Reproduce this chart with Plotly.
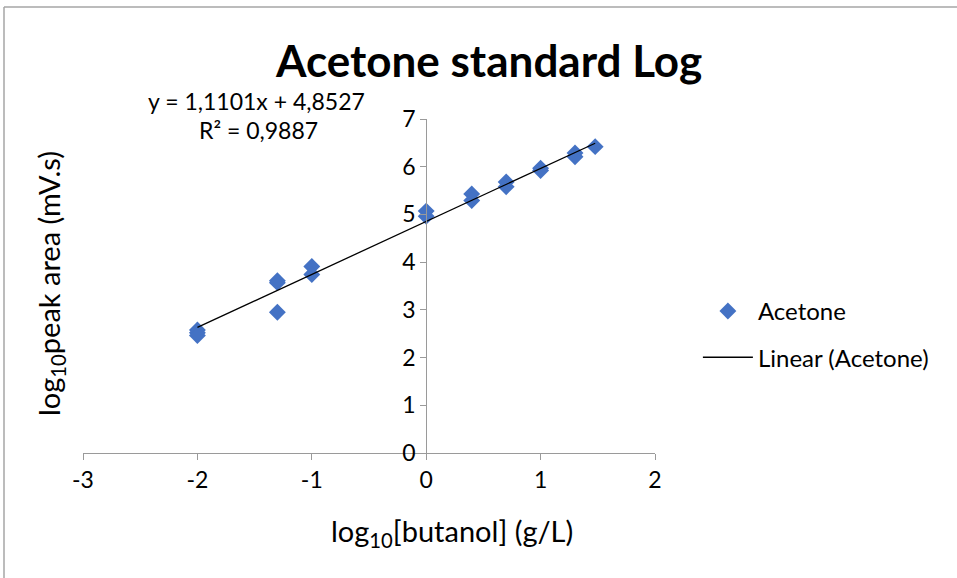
import plotly.graph_objects as go

# Data
log_butanol = [-2, -2, -2, -1.301, -1.301, -1.301, -1, -1, 0, 0,
               0.398, 0.398, 0.699, 0.699, 1, 1, 1.301, 1.301, 1.477]
log_peak = [2.58, 2.52, 2.46, 3.61, 3.57, 2.95, 3.91, 3.74, 5.07, 4.96,
            5.43, 5.29, 5.68, 5.58, 5.97, 5.92, 6.29, 6.21, 6.42]
slope = 1.1101
intercept = 4.8527
r2 = 0.9887
x_ticks = [-3, -2, -1, 0, 1, 2]
x_tick_labels = ["-3", "-2", "-1", "0", "1", "2"]
y_ticks = [0, 1, 2, 3, 4, 5, 6, 7]

FONT = "Lato, Carlito, Calibri, sans-serif"
AXIS_COLOR = "#9a9a9a"
x_lo, x_hi = -3, 2

xmin, xmax = min(log_butanol), max(log_butanol)
trend_x = [xmin, xmax]
trend_y = [slope * v + intercept for v in trend_x]

fig = go.Figure()
fig.add_trace(go.Scatter(
    x=log_butanol, y=log_peak, mode="markers", name="Acetone",
    marker=dict(symbol="diamond", size=13, color="#4472C4"),
    legendgroup="a",
))
fig.add_trace(go.Scatter(
    x=trend_x, y=trend_y, mode="lines", name="Linear (Acetone)",
    line=dict(color="black", width=1.3),
    legendgroup="b",
))

fig.update_layout(
    width=957, height=578,
    margin=dict(l=83, r=302, t=119, b=125),
    paper_bgcolor="white", plot_bgcolor="white",
    font=dict(family=FONT, size=23, color="black"),
    showlegend=True,
    legend=dict(x=1.075, y=0.355, xanchor="left", yanchor="middle",
                font=dict(size=24), tracegroupgap=12, itemwidth=50,
                traceorder="grouped", bgcolor="rgba(0,0,0,0)"),
    xaxis=dict(range=[x_lo, x_hi], domain=[0, 1], tickvals=x_ticks,
               ticktext=x_tick_labels,
               showgrid=False, zeroline=False, showline=True,
               linecolor=AXIS_COLOR, linewidth=1, ticks="outside",
               ticklen=6, tickcolor=AXIS_COLOR, tickfont=dict(size=23),
               mirror=False),
    yaxis=dict(range=[0, 7], tickvals=y_ticks, showgrid=False,
               zeroline=False, showline=True, linecolor=AXIS_COLOR,
               linewidth=1, ticks="outside", ticklen=6,
               tickcolor=AXIS_COLOR, tickfont=dict(size=23),
               anchor="free", position=(0 - x_lo) / (x_hi - x_lo)),
    annotations=[
        dict(text="<b>Acetone standard Log</b>", xref="paper", yref="paper",
             x=(488 - 83) / 572, y=(453 - 60) / 334, showarrow=False,
             font=dict(size=44), xanchor="center", yanchor="middle"),
        dict(text="log<sub>10</sub>[butanol] (g/L)", xref="paper",
             yref="paper", x=(452 - 83) / 572, y=(453 - 532) / 334,
             showarrow=False, font=dict(size=29), xanchor="center",
             yanchor="middle"),
        dict(text="log<sub>10</sub>peak area (mV.s)", xref="paper",
             yref="paper", x=(50 - 83) / 572, y=(453 - 284) / 334,
             showarrow=False, font=dict(size=29), textangle=-90,
             xanchor="center", yanchor="middle"),
        dict(text=f"y = {slope:.4f}x + {intercept:.4f}".replace(".", ","),
             xref="paper", yref="paper", x=(256 - 83) / 572,
             y=(453 - 101) / 334, showarrow=False, font=dict(size=23),
             xanchor="center", yanchor="middle"),
        dict(text=f"R² = {r2:.4f}".replace(".", ","),
             xref="paper", yref="paper", x=(258 - 83) / 572,
             y=(453 - 130) / 334, showarrow=False, font=dict(size=23),
             xanchor="center", yanchor="middle"),
    ],
    shapes=[
        dict(type="line", xref="paper", yref="paper",
             x0=(4 - 83) / 572, x1=(4 - 83) / 572,
             y0=(453 - 7) / 334, y1=(453 - 600) / 334,
             line=dict(color="#a6a6a6", width=1.5)),
        dict(type="line", xref="paper", yref="paper",
             x0=(4 - 83) / 572, x1=(1000 - 83) / 572,
             y0=(453 - 7) / 334, y1=(453 - 7) / 334,
             line=dict(color="#a6a6a6", width=1.5)),
    ],
)

fig.write_html("out.html")
